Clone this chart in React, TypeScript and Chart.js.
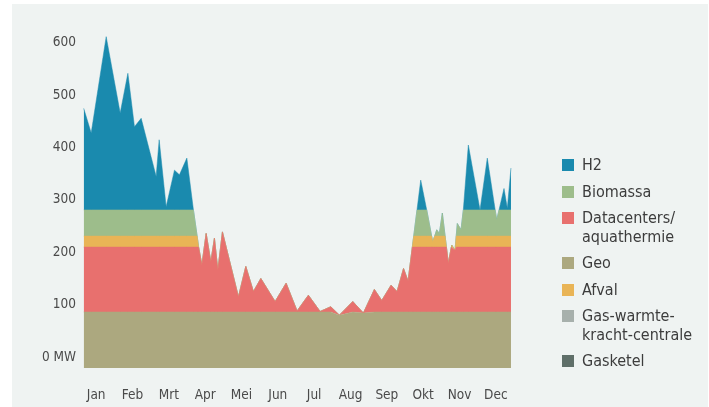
import React, { useEffect, useRef } from 'react';
import { Chart, registerables } from 'chart.js';

Chart.register(...registerables);

// ---- data -------------------------------------------------------------
const monthLabels = ['Jan', 'Feb', 'Mrt', 'Apr', 'Mei', 'Jun', 'Jul', 'Aug', 'Sep', 'Okt', 'Nov', 'Dec'];
const yTickValues = [0, 100, 200, 300, 400, 500, 600];

// sample positions, in months from 1 January
const timePos = [
  0.157, 0.363, 0.776, 1.161, 1.373, 1.554, 1.739, 2.151, 2.234, 2.426, 2.655, 2.792, 2.996, 3.177,
  3.279, 3.320,
  3.409, 3.527, 3.656, 3.755, 3.849, 3.975, 4.415, 4.619, 4.828, 5.032,
  5.425, 5.728, 6.030, 6.341, 6.663, 6.957, 7.194, 7.563, 7.854, 8.157,
  8.360, 8.616, 8.781, 8.960, 9.084,
  9.202, 9.240, 9.330, 9.433, 9.598, 9.733, 9.763, 9.816, 9.873, 9.945,
  10.028, 10.104, 10.140, 10.193, 10.275, 10.286, 10.377, 10.410, 10.440, 10.542,
  10.605, 10.743, 11.065, 11.265, 11.482, 11.524, 11.588, 11.725, 11.816, 11.917,
];

// MW per source
const geo = [
  86, 86, 86, 86, 86, 86, 86, 86, 86, 86, 86, 86, 86, 86,
  86, 86,
  86, 86, 86, 86, 86, 86, 86, 86, 86, 86,
  86, 86, 86, 86, 86, 86, 80, 86, 84, 86,
  86, 86, 86, 86, 86,
  86, 86, 86, 86, 86, 86, 86, 86, 86, 86,
  86, 86, 86, 86, 86, 86, 86, 86, 86, 86,
  86, 86, 86, 86, 86, 86, 86, 86, 86, 86,
];
const datacenters = [
  124, 124, 124, 124, 124, 124, 124, 124, 124, 124, 124, 124, 124, 124,
  124, 124,
  90, 150, 96, 141, 80, 153, 29, 87, 39, 64,
  20, 55, 2, 32, 1, 10, 0, 20, 0, 43,
  22, 51, 39, 83, 59,
  124, 124, 124, 124, 124, 124, 124, 124, 124, 124,
  124, 124, 124, 93, 124, 124, 118, 124, 124, 124,
  124, 124, 124, 124, 124, 124, 124, 124, 124, 124,
];
const afval = [
  21, 21, 21, 21, 21, 21, 21, 21, 21, 21, 21, 21, 21, 21,
  21, 0,
  0, 0, 0, 0, 0, 0, 0, 0, 0, 0,
  0, 0, 0, 0, 0, 0, 0, 0, 0, 0,
  0, 0, 0, 0, 0,
  0, 21, 21, 21, 21, 21, 10, 21, 21, 21,
  21, 21, 0, 0, 0, 4, 0, 21, 21, 21,
  21, 21, 21, 21, 21, 21, 21, 21, 21, 21,
];
const biomassa = [
  50, 50, 50, 50, 50, 50, 50, 50, 50, 50, 50, 50, 50, 50,
  0, 0,
  0, 0, 0, 0, 0, 0, 0, 0, 0, 0,
  0, 0, 0, 0, 0, 0, 0, 0, 0, 0,
  0, 0, 0, 0, 0,
  0, 0, 50, 50, 50, 0, 0, 0, 12, 5,
  44, 0, 0, 0, 0, 0, 0, 0, 24, 12,
  50, 50, 50, 50, 50, 31, 50, 50, 50, 50,
];
const h2 = [
  194, 147, 331, 185, 261, 159, 175, 64, 134, 6, 76, 67, 99, 0,
  0, 0,
  0, 0, 0, 0, 0, 0, 0, 0, 0, 0,
  0, 0, 0, 0, 0, 0, 0, 0, 0, 0,
  0, 0, 0, 0, 0,
  0, 0, 0, 57, 0, 0, 0, 0, 0, 0,
  0, 0, 0, 0, 0, 0, 0, 0, 0, 0,
  0, 124, 0, 99, 0, 0, 0, 41, 3, 80,
];

// ---- styles -----------------------------------------------------------
const COLORS = {
  h2: '#1a8aae',
  biomassa: '#9dbd8b',
  datacenters: '#e8706e',
  geo: '#aca87f',
  afval: '#e9b456',
  gasWkk: '#a7b0ac',
  gasketel: '#5f6f69',
};
const FONT = "'DejaVu Sans Condensed', 'Liberation Sans Narrow', 'Roboto Condensed', 'DejaVu Sans', sans-serif";
const TEXT = '#4a4a4a';

const legendItems: { lines: string[]; color: string }[] = [
  { lines: ['H2'], color: COLORS.h2 },
  { lines: ['Biomassa'], color: COLORS.biomassa },
  { lines: ['Datacenters/', 'aquathermie'], color: COLORS.datacenters },
  { lines: ['Geo'], color: COLORS.geo },
  { lines: ['Afval'], color: COLORS.afval },
  { lines: ['Gas-warmte-', 'kracht-centrale'], color: COLORS.gasWkk },
  { lines: ['Gasketel'], color: COLORS.gasketel },
];

const toPoints = (vals: number[]) => vals.map((v, i) => ({ x: timePos[i], y: v }));

export default function App() {
  const ref = useRef<HTMLCanvasElement>(null);

  useEffect(() => {
    document.body.style.margin = '0';
    if (!ref.current) return;
    const series = [
      { label: 'Geo', data: geo, color: COLORS.geo },
      { label: 'Datacenters/aquathermie', data: datacenters, color: COLORS.datacenters },
      { label: 'Afval', data: afval, color: COLORS.afval },
      { label: 'Biomassa', data: biomassa, color: COLORS.biomassa },
      { label: 'H2', data: h2, color: COLORS.h2 },
    ];
    const chart = new Chart(ref.current, {
      type: 'line',
      data: {
        datasets: series.map((s, i) => ({
          label: s.label,
          data: toPoints(s.data),
          backgroundColor: s.color,
          borderColor: s.color,
          borderWidth: 0.5,
          pointRadius: 0,
          tension: 0,
          fill: i === 0 ? 'start' : '-1',
        })),
      },
      options: {
        responsive: false,
        animation: false,
        layout: { padding: { left: 0, right: 195, top: 22, bottom: 0 } },
        plugins: { legend: { display: false }, tooltip: { enabled: false } },
        scales: {
          x: {
            type: 'linear',
            min: 0,
            max: 12,
            grid: { display: false, drawTicks: false },
            border: { display: false },
            afterBuildTicks: (s: any) => {
              s.ticks = monthLabels.map((_, i) => ({ value: i + 0.5 }));
            },
            afterFit: (s: any) => {
              s.height = 39;
            },
            ticks: {
              padding: 19,
              autoSkip: false,
              maxRotation: 0,
              color: TEXT,
              font: { family: FONT, size: 13.5 },
              callback: (v: any) => monthLabels[Math.floor(Number(v))],
            },
          },
          y: {
            type: 'linear',
            stacked: true,
            min: -21,
            max: 640,
            grid: { display: false, drawTicks: false },
            border: { display: false },
            afterBuildTicks: (s: any) => {
              s.ticks = yTickValues.map((v) => ({ value: v }));
            },
            afterFit: (s: any) => {
              s.width = 78;
            },
            ticks: {
              padding: 2,
              color: TEXT,
              font: { family: FONT, size: 13.5 },
              callback: (v: any) => (Number(v) === 0 ? '0 MW' : String(v)),
            },
          },
        },
      },
    });
    return () => chart.destroy();
  }, []);

  return (
    <div style={{ position: 'relative', width: 709, height: 407, background: '#ffffff', overflow: 'hidden' }}>
      <div style={{ position: 'absolute', left: 12, top: 4, right: 1, bottom: 0, background: '#eff3f2' }} />
      <canvas ref={ref} width={709} height={407} style={{ position: 'absolute', left: 0, top: 0 }} />
      <div
        style={{
          position: 'absolute',
          left: 562,
          top: 156,
          display: 'flex',
          flexDirection: 'column',
          gap: 8,
          fontFamily: FONT,
          fontSize: 16,
          lineHeight: '18.5px',
          color: '#3c3c3c',
        }}
      >
        {legendItems.map((it) => (
          <div key={it.lines[0]} style={{ display: 'flex', alignItems: 'flex-start' }}>
            <div style={{ width: 12, height: 12, marginTop: 3, marginRight: 8, background: it.color, flex: 'none' }} />
            <div>
              {it.lines.map((l) => (
                <div key={l}>{l}</div>
              ))}
            </div>
          </div>
        ))}
      </div>
    </div>
  );
}
